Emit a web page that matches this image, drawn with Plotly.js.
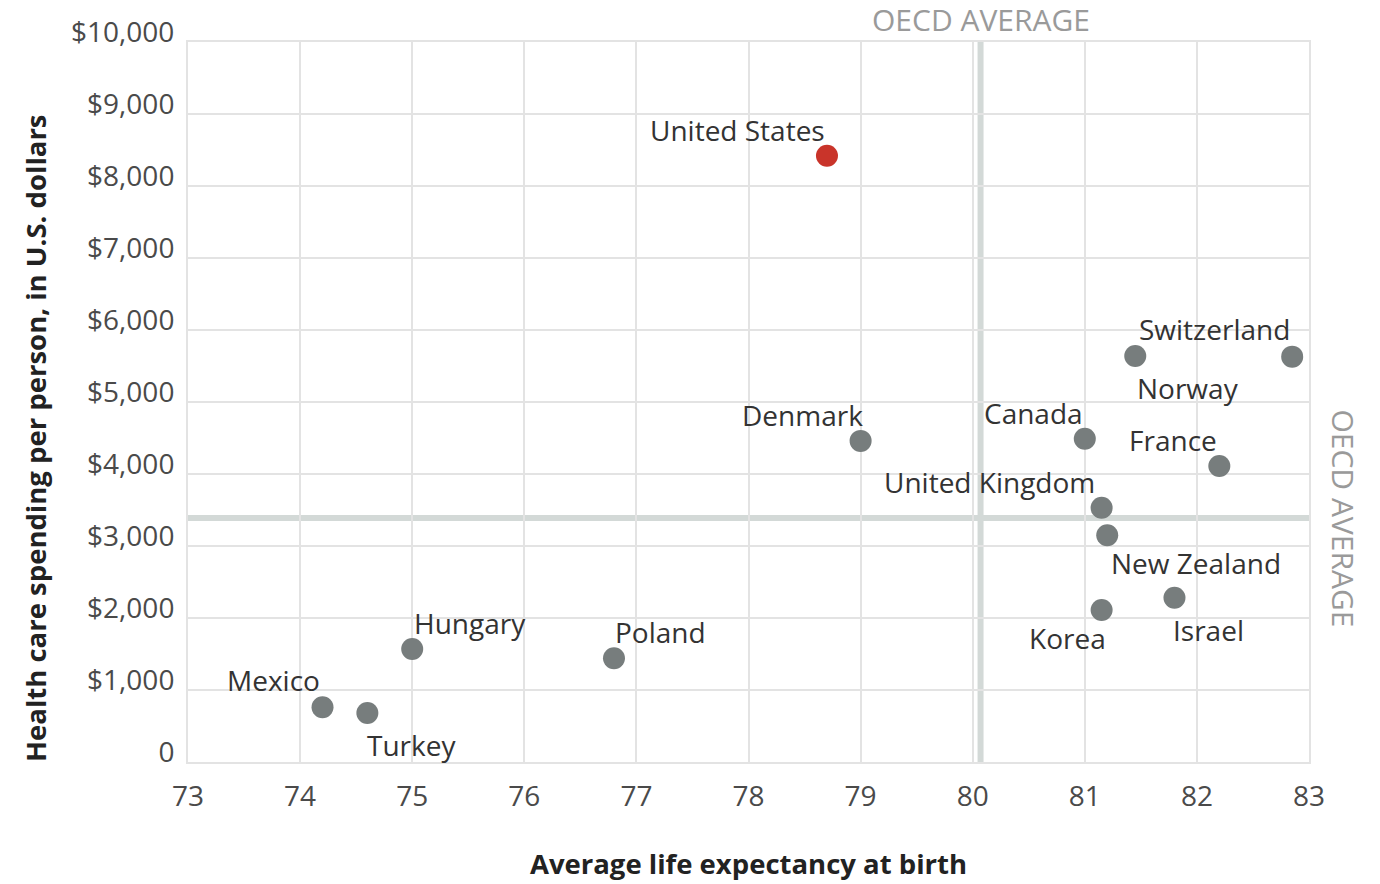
<!DOCTYPE html>
<html><head><meta charset="utf-8">
<script src="https://cdn.plot.ly/plotly-3.0.1.min.js"></script>
<style>html,body{margin:0;padding:0;background:#fff;}#chart{width:1380px;height:884px;}</style>
</head><body><div id="chart"></div>
<script>
const countries = ['United States','Switzerland','Norway','Denmark','Canada','France','United Kingdom','New Zealand','Korea','Israel','Hungary','Poland','Mexico','Turkey'];
const lifeExpectancy = [78.7, 82.85, 81.45, 79.0, 81.0, 82.2, 81.15, 81.2, 81.15, 81.8, 75.0, 76.8, 74.2, 74.6];
const spending = [8420, 5630, 5640, 4460, 4490, 4110, 3530, 3150, 2110, 2280, 1570, 1440, 760, 680];
const labelOffsetX = [-89, -78, 53, -58, -51, -46, -112, 89, -34, 34, 58, 47, -49, 44];
const labelOffsetY = [-26, -28, 32, -26, -26, -26, -26, 28, 28, 32, -26, -26, -27, 32];
const oecdLife = 80.07;
const oecdSpending = 3390;
const yTickVals = [0,1000,2000,3000,4000,5000,6000,7000,8000,9000,10000];
const yTickText = ['0','$1,000','$2,000','$3,000','$4,000','$5,000','$6,000','$7,000','$8,000','$9,000','$10,000'];
const xTickVals = [73,74,75,76,77,78,79,80,81,82,83];

const FONT = '"Open Sans", "Noto Sans", sans-serif';
const markerColors = countries.map(c => c === 'United States' ? '#c9342a' : '#777d7d');

const trace = {
  type: 'scatter', mode: 'markers',
  x: lifeExpectancy, y: spending, text: countries,
  marker: {size: 22, color: markerColors, line: {width: 0}},
  hoverinfo: 'text', cliponaxis: false
};

const annotations = countries.map((c, i) => ({
  x: lifeExpectancy[i], y: spending[i], xref: 'x', yref: 'y',
  text: c, showarrow: true, arrowcolor: 'rgba(0,0,0,0)', arrowwidth: 0.1,
  ax: labelOffsetX[i], ay: labelOffsetY[i],
  font: {family: FONT, size: 28, color: '#333'}
}));
annotations.push({
  x: oecdLife, xref: 'x', y: 1, yref: 'paper', yanchor: 'bottom', yshift: 0,
  text: 'OECD AVERAGE', showarrow: false,
  font: {family: FONT, size: 30, color: '#9a9a9a'}
});
annotations.push({
  x: 1, xref: 'paper', xanchor: 'left', xshift: 12, y: oecdSpending, yref: 'y',
  text: 'OECD AVERAGE', showarrow: false, textangle: 90,
  font: {family: FONT, size: 30, color: '#9a9a9a'}
});
annotations.push({
  x: 0, xref: 'paper', xanchor: 'center', xshift: -153, y: 0.45, yref: 'paper',
  text: '<b>Health care spending per person, in U.S. dollars</b>', showarrow: false, textangle: -90,
  font: {family: FONT, size: 27.5, color: '#222'}
});

const layout = {
  width: 1380, height: 884,
  margin: {l: 188, r: 71, t: 42, b: 122},
  paper_bgcolor: '#fff', plot_bgcolor: '#fff',
  showlegend: false,
  font: {family: FONT},
  xaxis: {
    range: [73, 83], tickvals: xTickVals, showgrid: true, gridcolor: '#e3e3e3', gridwidth: 2,
    zeroline: false, showline: true, linecolor: '#e3e3e3', linewidth: 2, mirror: true,
    ticks: '', ticklabelstandoff: 8, tickfont: {family: FONT, size: 28, color: '#4a4a4a'},
    title: {text: '<b>Average life expectancy at birth</b>', standoff: 42, font: {family: FONT, size: 27.5, color: '#222'}}
  },
  yaxis: {
    range: [0, 10000], tickvals: yTickVals, ticktext: yTickText, showgrid: true, gridcolor: '#e3e3e3', gridwidth: 2,
    zeroline: false, showline: true, linecolor: '#e3e3e3', linewidth: 2, mirror: true,
    ticks: '', ticklabelshift: -10, ticklabelstandoff: 6, tickfont: {family: FONT, size: 28, color: '#4a4a4a'}
  },
  shapes: [
    {type: 'line', layer: 'between', xref: 'x', yref: 'paper', x0: oecdLife, x1: oecdLife, y0: 0, y1: 1, line: {color: '#d3d9d7', width: 6}},
    {type: 'line', layer: 'between', xref: 'paper', yref: 'y', x0: 0, x1: 1, y0: oecdSpending, y1: oecdSpending, line: {color: '#d3d9d7', width: 6}}
  ],
  annotations: annotations
};

Plotly.newPlot('chart', [trace], layout, {displayModeBar: false, staticPlot: true});
</script>
</body></html>
